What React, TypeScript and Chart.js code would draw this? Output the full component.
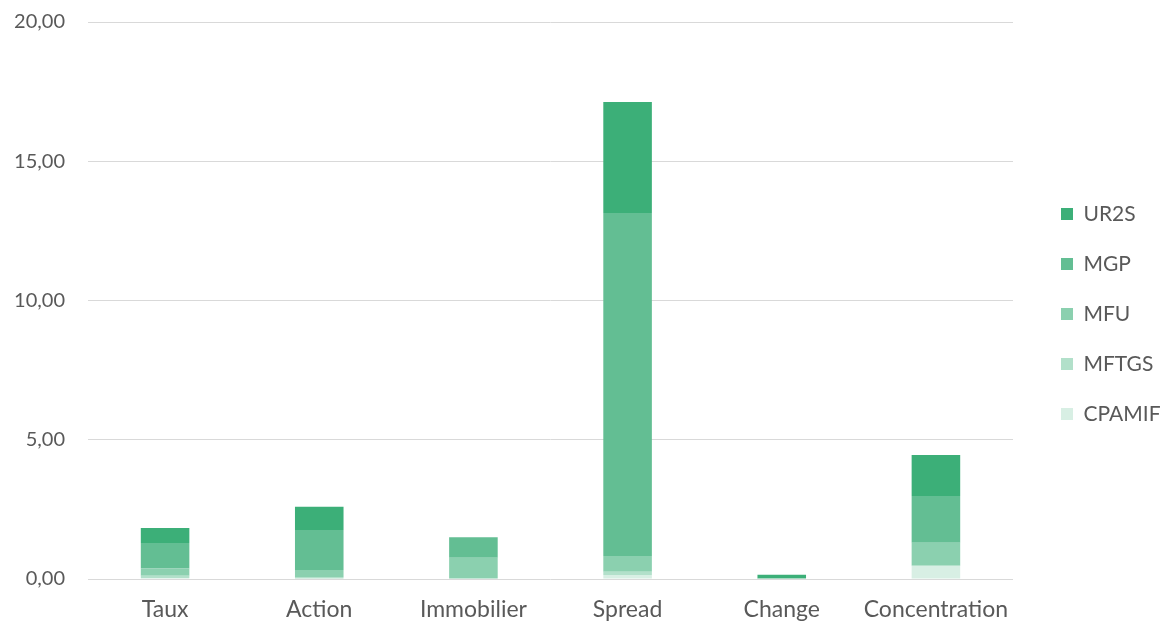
import React, { useEffect, useRef } from "react";
import { Chart, registerables } from "chart.js";

Chart.register(...registerables);

const categories = ["Taux", "Action", "Immobilier", "Spread", "Change", "Concentration"];
const CPAMIF = [0.03, 0.02, 0.02, 0.14, 0.01, 0.48];
const MFTGS = [0.09, 0.05, 0.0, 0.12, 0.0, 0.0];
const MFU = [0.26, 0.25, 0.74, 0.57, 0.01, 0.82];
const MGP = [0.91, 1.44, 0.74, 12.31, 0.0, 1.68];
const UR2S = [0.54, 0.83, 0.0, 3.99, 0.13, 1.47];
const yTicks = [0, 5, 10, 15, 20];

const FONT = "Lato, 'Noto Sans', sans-serif";
const TEXT = "#595959";

const legendShift = {
  id: "legendShift",
  afterLayout(chart: any) {
    if (chart.legend) chart.legend.bottom -= 16;
  },
};

export default function App() {
  const ref = useRef<HTMLCanvasElement | null>(null);
  useEffect(() => {
    if (!ref.current) return;
    const mk = (label: string, data: number[], color: string) => ({
      label,
      data,
      backgroundColor: color,
      borderWidth: 0,
      barPercentage: 0.315,
      categoryPercentage: 1,
    });
    const chart = new Chart(ref.current, {
      type: "bar",
      data: {
        labels: categories,
        datasets: [
          mk("CPAMIF", CPAMIF, "#D8EFE4"),
          mk("MFTGS", MFTGS, "#B2E0CA"),
          mk("MFU", MFU, "#8BD0AF"),
          mk("MGP", MGP, "#63BE93"),
          mk("UR2S", UR2S, "#3CAF78"),
        ],
      },
      plugins: [legendShift],
      options: {
        animation: false,
        responsive: false,
        maintainAspectRatio: false,
        layout: { padding: { left: 14, top: 22, right: 0, bottom: 0 } },
        plugins: {
          tooltip: { enabled: false },
          legend: {
            position: "right",
            reverse: true,
            maxWidth: 129,
            labels: {
              boxWidth: 12,
              boxHeight: 12,
              padding: 29,
              color: TEXT,
              font: { family: FONT, size: 21 },
            },
          },
        },
        scales: {
          x: {
            stacked: true,
            grid: { display: false, drawTicks: false },
            border: { display: false },
            ticks: { color: TEXT, font: { family: FONT, size: 23 }, padding: 17 },
            afterFit: (scale: any) => {
              scale.height = 43;
              scale.paddingLeft = 0;
              scale.paddingRight = 0;
            },
          },
          y: {
            stacked: true,
            min: 0,
            max: 20,
            afterBuildTicks: (scale: any) => {
              scale.ticks = yTicks.map((v) => ({ value: v }));
            },
            grid: { color: "#D9D9D9", lineWidth: 1, drawTicks: false },
            border: { display: false },
            ticks: {
              color: TEXT,
              font: { family: FONT, size: 20 },
              padding: 23,
              callback: (v: any) => Number(v).toFixed(2).replace(".", ","),
            },
            afterFit: (scale: any) => {
              scale.width = 74;
              scale.paddingTop = 0;
              scale.paddingBottom = 0;
            },
          },
          y2: {
            position: "right",
            display: true,
            grid: { display: false, drawTicks: false },
            border: { display: false },
            ticks: { display: false },
            afterFit: (scale: any) => {
              scale.width = 19;
              scale.paddingTop = 0;
              scale.paddingBottom = 0;
            },
          },
        },
      },
    } as any);
    return () => chart.destroy();
  }, []);
  return (
    <div style={{ position: "fixed", left: 0, top: 0, width: 1161, height: 622, background: "#fff" }}>
      <canvas ref={ref} width={1161} height={622} style={{ width: 1161, height: 622 }} />
    </div>
  );
}
